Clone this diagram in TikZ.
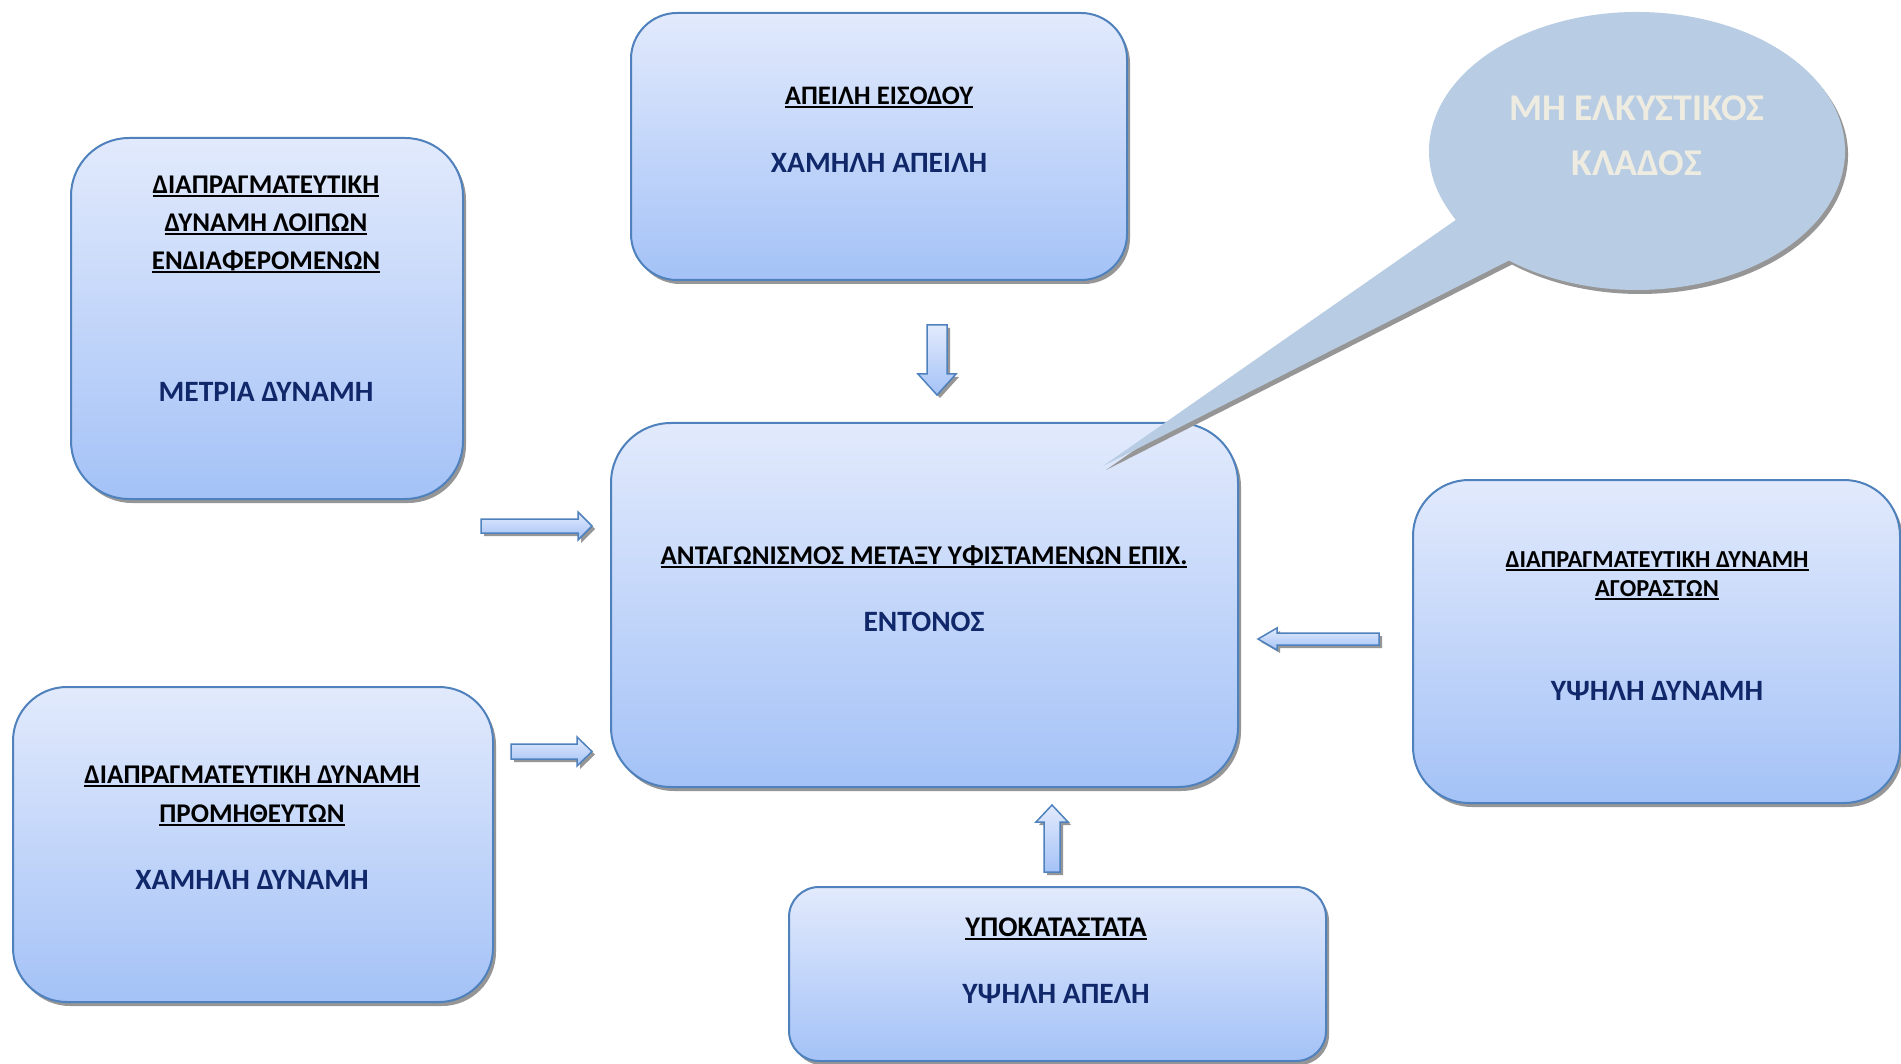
\documentclass[tikz,border=0pt]{standalone}
\usepackage{fontspec}
\setmainfont{Carlito}
\usetikzlibrary{shadows}
\definecolor{bord}{RGB}{79,129,189}
\definecolor{gtop}{RGB}{226,234,252}
\definecolor{gbot}{RGB}{164,194,247}
\definecolor{navy}{RGB}{16,40,106}
\definecolor{callfill}{RGB}{184,204,228}
\definecolor{calltext}{RGB}{238,236,225}
\definecolor{shadowgray}{RGB}{150,150,150}
\newcommand\undl[1]{\setbox0\hbox{#1}\rlap{\rule[-3.5pt]{\wd0}{2pt}}\box0}
\tikzset{
  fbox/.style={draw=bord, line width=2pt, top color=gtop, bottom color=gbot,
    general shadow={fill=shadowgray, shadow xshift=3pt, shadow yshift=-4pt},
    inner sep=0pt, anchor=north west},
  barrow/.style={draw=bord, line width=1.5pt, top color=gtop, bottom color=gbot,
    line join=miter, general shadow={fill=shadowgray, shadow xshift=3pt, shadow yshift=-3pt}},
  head/.style 2 args={font=\bfseries\fontsize{#1}{#2}\selectfont, align=center, inner sep=0pt, text=black},
  val/.style={font=\bfseries\fontsize{#1}{#1}\selectfont, align=center, inner sep=0pt, text=navy},
}
\begin{document}
\begin{tikzpicture}[x=1pt, y=-1pt]
\useasboundingbox (0,0) rectangle (1901,1064);
\clip (0,0) rectangle (1901,1064);
\fill[white] (0,0) rectangle (1901,1064);

% boxes
\node[fbox, rounded corners=58pt, minimum width=392pt, minimum height=361pt] (tl) at (70,137) {};
\node[fbox, rounded corners=46pt, minimum width=496pt, minimum height=267pt] (tc) at (630,12) {};
\node[fbox, rounded corners=60pt, minimum width=627pt, minimum height=364pt] (cc) at (610,422) {};
\node[fbox, rounded corners=56pt, minimum width=487pt, minimum height=323pt] (rr) at (1412,479) {};
\node[fbox, rounded corners=54pt, minimum width=480pt, minimum height=315pt] (bl) at (12,686) {};
\node[fbox, rounded corners=30pt, minimum width=537pt, minimum height=174pt] (bc) at (788,886) {};

% block arrows
\draw[barrow] (481,519) -- (578,519) -- (578,512) -- (592,526) -- (578,540) -- (578,533) -- (481,533) -- cycle;
\draw[barrow] (511,744) -- (577,744) -- (577,737) -- (592,751.5) -- (577,766) -- (577,759) -- (511,759) -- cycle;
\draw[barrow] (927,325) -- (947,325) -- (947,374) -- (956,374) -- (937,395) -- (918,374) -- (927,374) -- cycle;
\draw[barrow] (1379,633) -- (1277,633) -- (1277,628) -- (1258,639) -- (1277,650) -- (1277,645) -- (1379,645) -- cycle;
\draw[barrow] (1044,872) -- (1044,822) -- (1036,822) -- (1052,805) -- (1068,822) -- (1060,822) -- (1060,872) -- cycle;

% callout
\coordinate (cl) at (1637,151);
\fill[callfill, general shadow={fill=shadowgray, shadow xshift=3pt, shadow yshift=-4pt}]
  (1103,466) -- ([shift={(150.4:208 and 139)}]cl) arc[start angle=150.4, end angle=488, x radius=208, y radius=139] -- cycle;
\node[font=\bfseries\fontsize{37.8}{55}\selectfont, align=center, text=calltext, inner sep=0pt] (ct) at (1637,136) {ΜΗ ΕΛΚΥΣΤΙΚΟΣ\\ΚΛΑΔΟΣ};

% texts
\node[head={27}{38}] (tlh) at (266,224) {\undl{ΔΙΑΠΡΑΓΜΑΤΕΥΤΙΚΗ}\\\undl{ΔΥΝΑΜΗ ΛΟΙΠΩΝ}\\\undl{ΕΝΔΙΑΦΕΡΟΜΕΝΩΝ}};
\node[val=29.5] (tlv) at (266,391.5) {ΜΕΤΡΙΑ ΔΥΝΑΜΗ};

\node[head={26.7}{30}] (tch) at (879,97.5) {\undl{ΑΠΕΙΛΗ ΕΙΣΟΔΟΥ}};
\node[val=29.5] (tcv) at (879,162.5) {ΧΑΜΗΛΗ ΑΠΕΙΛΗ};

\node[head={27}{30}] (cch) at (924,556.5) {\undl{ΑΝΤΑΓΩΝΙΣΜΟΣ ΜΕΤΑΞΥ ΥΦΙΣΤΑΜΕΝΩΝ ΕΠΙΧ.}};
\node[val=29.5] (ccv) at (924,621.5) {ΕΝΤΟΝΟΣ};

\node[head={24.4}{29}] (rrh) at (1657,575.5) {\undl{ΔΙΑΠΡΑΓΜΑΤΕΥΤΙΚΗ ΔΥΝΑΜΗ}\\\undl{ΑΓΟΡΑΣΤΩΝ}};
\node[val=29.5] (rrv) at (1657,690.5) {ΥΨΗΛΗ ΔΥΝΑΜΗ};

\node[head={27}{39}] (blh) at (252,795.5) {\undl{ΔΙΑΠΡΑΓΜΑΤΕΥΤΙΚΗ ΔΥΝΑΜΗ}\\\undl{ΠΡΟΜΗΘΕΥΤΩΝ}};
\node[val=29.5] (blv) at (252,879.5) {ΧΑΜΗΛΗ ΔΥΝΑΜΗ};

\node[head={28.5}{30}] (bch) at (1056,928.5) {\undl{ΥΠΟΚΑΤΑΣΤΑΤΑ}};
\node[val=29.5] (bcv) at (1056,993.5) {ΥΨΗΛΗ ΑΠΕΛΗ};
\end{tikzpicture}
\end{document}
